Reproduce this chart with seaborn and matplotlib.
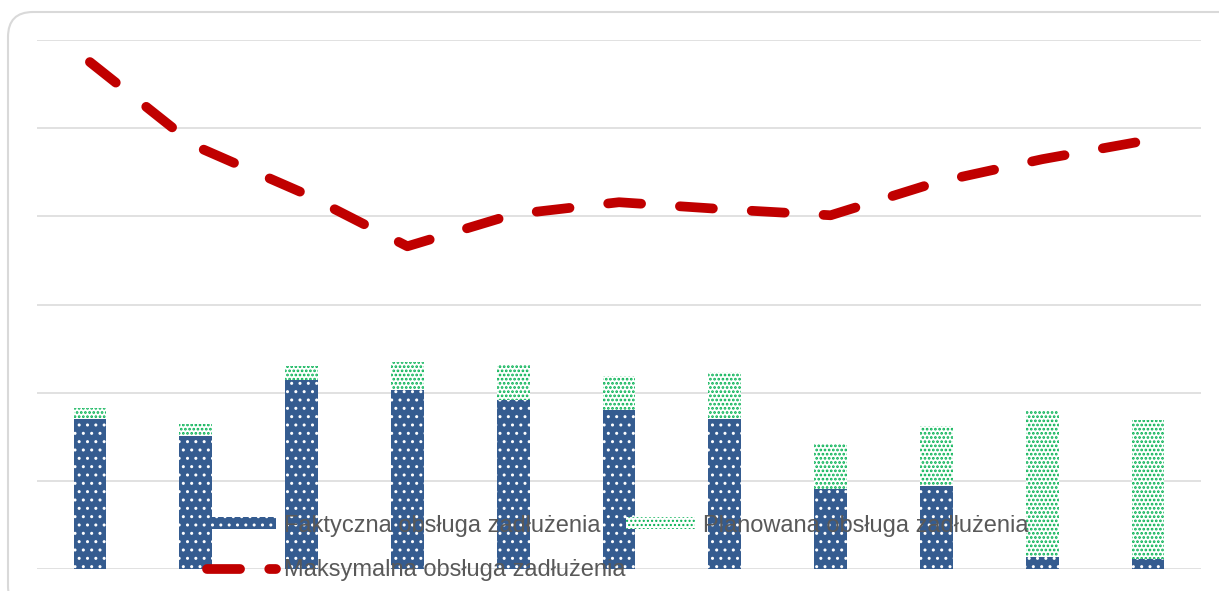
import numpy as np
import pandas as pd
import matplotlib
matplotlib.use("Agg")
import matplotlib.pyplot as plt
from matplotlib.patches import Patch, FancyBboxPatch
from matplotlib.lines import Line2D
import seaborn as sns

# Debt service by year (% of revenue)
years = ["2013", "2014", "2015", "2016", "2017", "2018", "2019", "2020", "2021", "2022", "2023"]
actual = [8.52, 7.56, 10.74, 10.17, 9.60, 9.03, 8.52, 4.56, 4.72, 0.70, 0.57]
planned = [0.63, 0.68, 0.80, 1.59, 1.99, 1.94, 2.63, 2.58, 3.37, 8.24, 7.86]
maximum = [28.75, 23.98, 21.36, 18.30, 20.11, 20.80, 20.40, 20.06, 21.93, 23.24, 24.32]

label_actual = "Faktyczna obsługa zadłużenia"
label_planned = "Planowana obsługa zadłużenia"
label_max = "Maksymalna obsługa zadłużenia"

BLUE = "#355C90"
GREEN = "#00B050"
RED = "#C00000"
GRID = "#D9D9D9"
TEXT = "#595959"

df = pd.DataFrame({"year": years, "actual": actual, "planned": planned, "maximum": maximum})
df["total"] = df["actual"] + df["planned"]

sns.set_theme(style="white")
plt.rcParams["font.family"] = ["Liberation Sans", "DejaVu Sans"]
plt.rcParams["hatch.linewidth"] = 1.0


def green_dots(p):
    p.set_facecolor("white")
    p.set_edgecolor(GREEN)
    p.set_linewidth(0)
    p.set_hatch("....")
    if hasattr(p, "set_hatch_linewidth"):
        p.set_hatch_linewidth(1.3)


def blue_dots(p):
    p.set_facecolor(BLUE)
    p.set_edgecolor("white")
    p.set_linewidth(0)
    p.set_hatch("..")


fig = plt.figure(figsize=(12.19, 5.91), dpi=100)
ax = fig.add_axes([37 / 1219, 22 / 591, 1164 / 1219, 529 / 591])

# planned share stacked on top: draw full height with green dots, actual over it
sns.barplot(data=df, x="year", y="total", color="white", width=0.31, ax=ax,
            saturation=1, zorder=2)
n = len(years)
for p in ax.patches[:n]:
    green_dots(p)

sns.barplot(data=df, x="year", y="actual", color=BLUE, width=0.31, ax=ax,
            saturation=1, zorder=3)
for p in ax.patches[n:]:
    blue_dots(p)

DASH = (3.4, 4.0)
sns.lineplot(x=np.arange(n), y=df["maximum"], ax=ax, color=RED, lw=7,
             zorder=4)
line = ax.lines[-1]
line.set_dashes(DASH)
line.set_dash_capstyle("round")

ax.set_xlim(-0.5, n - 0.5)
ax.set_ylim(0, 30)
ax.set_yticks(np.arange(0, 31, 5))
ax.yaxis.grid(True, color=GRID, lw=1.1)
ax.set_axisbelow(True)
ax.tick_params(left=False, bottom=False, labelleft=False, labelbottom=False)
ax.set_xlabel("")
ax.set_ylabel("")
for s in ax.spines.values():
    s.set_visible(False)

# column-wise fill: first column holds actual + maximum, second holds planned
h_actual = Patch(label=label_actual)
blue_dots(h_actual)
h_planned = Patch(label=label_planned)
green_dots(h_planned)
h_max = Line2D([0], [0], color=RED, lw=7, dashes=(3.4, 3.0), dash_capstyle="round",
               label=label_max)
leg = ax.legend(handles=[h_actual, h_max, h_planned], ncol=2, loc="center",
                bbox_to_anchor=(0.499, 0.040),
                frameon=False, fontsize=17, labelcolor=TEXT, handlelength=2.9,
                handleheight=0.42, handletextpad=0.34, columnspacing=0.05,
                labelspacing=0.95, borderpad=0)
leg.set_zorder(5)

# rounded chart frame
frame = FancyBboxPatch((0.08, -0.2), 12.4, 5.99, boxstyle="round,pad=0,rounding_size=0.25",
                       transform=fig.dpi_scale_trans, facecolor="none", edgecolor=GRID,
                       lw=1.5, zorder=0)
fig.patches.append(frame)

fig.savefig("out.png", dpi=100)
